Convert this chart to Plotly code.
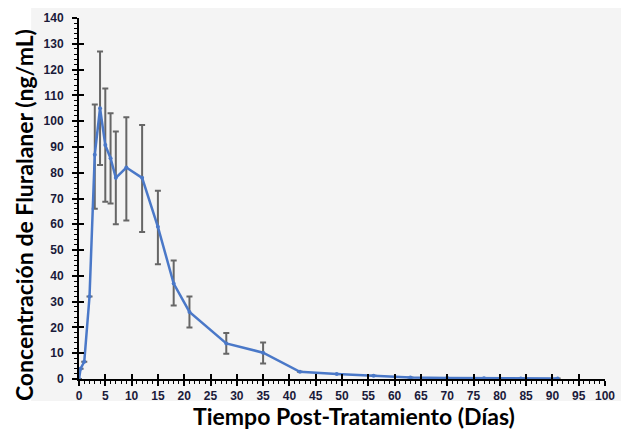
import plotly.graph_objects as go

days = [0, 0.3, 1, 2, 3, 4, 5, 6, 7, 9, 12, 15, 18, 21, 28, 35, 42, 49, 56, 63, 70, 77, 84, 91]
conc = [0, 4, 6.7, 32, 87, 105, 90.7, 85.6, 78, 82, 78, 59, 37, 26, 13.8, 10.2, 2.8, 1.9, 1.3, 0.6, 0.4, 0.3, 0.2, 0.2]
err_up = [0, 0, 0, 0, 19.5, 22, 22, 17.5, 18, 19.5, 20.5, 14, 9, 6, 4, 4, 0, 0, 0, 0, 0, 0, 0, 0]
err_dn = [0, 0, 0, 0, 21, 22, 22, 17.5, 18, 20.5, 21, 14.5, 8.5, 6, 4, 4.2, 0, 0, 0, 0, 0, 0, 0, 0]

x_ticks = list(range(0, 101, 5))
y_ticks = list(range(0, 141, 10))
x_title = "Tiempo Post-Tratamiento (Días)"
y_title = "Concentración de Fluralaner (ng/mL)"

fig = go.Figure()
fig.add_trace(go.Scatter(
    x=days, y=conc, mode="lines+markers",
    line=dict(color="#4a78c8", width=2.5),
    marker=dict(color="#4a78c8", size=4),
    error_y=dict(type="data", symmetric=False, array=err_up, arrayminus=err_dn,
                 color="#666666", thickness=2, width=3),
    showlegend=False,
))

tickfont = dict(family="Liberation Sans", size=12, color="#1a1a3a")
axis_common = dict(showgrid=False, zeroline=False, showline=True, linecolor="black",
                   linewidth=2, ticks="outside", tickcolor="black", tickwidth=2, ticklen=5,
                   tickfont=tickfont, automargin=False)
title_font = dict(family="Lato", size=23, color="black")

fig.update_layout(
    width=629, height=429,
    margin=dict(l=71, r=32, t=10, b=58),
    paper_bgcolor="white", plot_bgcolor="#f4f4f4",
    xaxis=dict(range=[0, 100], tickvals=x_ticks, ticktext=[f"<b>{v}</b>" for v in x_ticks],
               minor=dict(dtick=1, ticks="outside", ticklen=3, tickwidth=1, tickcolor="black"),
               **axis_common),
    yaxis=dict(range=[0, 140], tickvals=y_ticks, ticktext=[f"<b>{v}</b>" for v in y_ticks],
               minor=dict(dtick=2, ticks="outside", ticklen=3, tickwidth=1, tickcolor="black"),
               ticklabelstandoff=6,
               **axis_common),
    xaxis2=dict(overlaying="x", range=[0, 100], tickvals=x_ticks, showticklabels=False,
                ticks="inside", ticklen=5, tickwidth=2, tickcolor="black", showgrid=False,
                zeroline=False, anchor="y", automargin=False),
    yaxis2=dict(overlaying="y", range=[0, 140], tickvals=y_ticks, showticklabels=False,
                ticks="inside", ticklen=5, tickwidth=2, tickcolor="black", showgrid=False,
                zeroline=False, anchor="x", automargin=False),
)
fig.add_trace(go.Scatter(x=[None], y=[None], xaxis="x2", yaxis="y2", showlegend=False))
fig.add_shape(type="rect", xref="paper", yref="paper", x0=-0.091, x1=1.038, y0=-0.061, y1=1.03,
              fillcolor="#f4f4f4", line=dict(width=0), layer="below")
fig.add_annotation(text=f"<b>{x_title}</b>", xref="paper", yref="paper", x=0.522, y=0,
                   xanchor="center", yanchor="middle", yshift=-37, showarrow=False, font=title_font)
fig.add_annotation(text=f"<b>{y_title}</b>", xref="paper", yref="paper", x=0, y=0.454,
                   xanchor="center", yanchor="middle", xshift=-55, textangle=-90,
                   showarrow=False, font=title_font)
fig.write_html("out.html")
